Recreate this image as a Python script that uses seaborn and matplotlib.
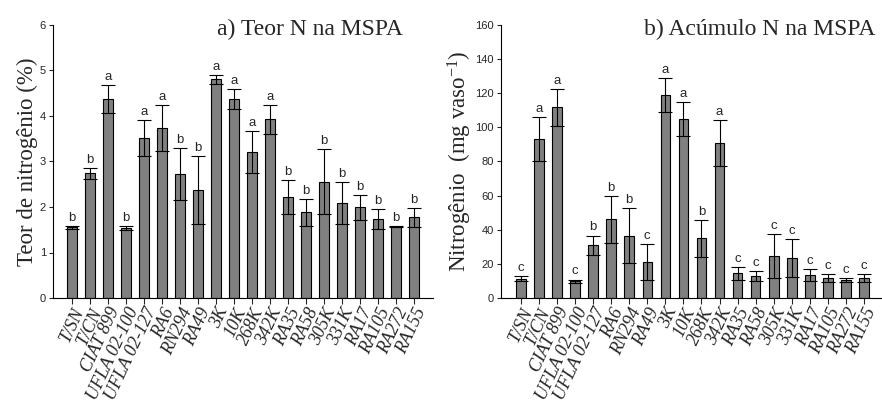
import matplotlib
matplotlib.use("Agg")
import matplotlib.pyplot as plt
import seaborn as sns
import pandas as pd
import numpy as np

categories = ["T/SN", "T/CN", "CIAT 899", "UFLA 02-100", "UFLA 02-127", "RA6", "RN294", "RA49",
              "3K", "10K", "268K", "342K", "RA35", "RA58", "305K", "331K", "RA17", "RA105",
              "RA272", "RA155"]

teor_mean = [1.55, 2.74, 4.37, 1.54, 3.52, 3.74, 2.72, 2.37, 4.81, 4.37,
             3.20, 3.93, 2.22, 1.88, 2.56, 2.08, 1.99, 1.74, 1.57, 1.77]
teor_err = [0.04, 0.12, 0.31, 0.04, 0.39, 0.51, 0.57, 0.74, 0.10, 0.22,
            0.46, 0.32, 0.38, 0.30, 0.72, 0.46, 0.28, 0.22, 0.02, 0.20]
teor_letters = ["b", "b", "a", "b", "a", "a", "b", "b", "a", "a",
                "a", "a", "b", "b", "b", "b", "b", "b", "b", "b"]

acum_mean = [11.3, 93.2, 111.7, 9.8, 30.9, 46.1, 36.5, 21.1, 118.8, 104.9,
             35.0, 90.8, 14.5, 12.7, 24.8, 23.6, 13.3, 11.7, 10.5, 11.7]
acum_err = [1.5, 13.0, 10.8, 1.0, 5.7, 13.6, 16.2, 10.6, 9.9, 9.8,
            10.7, 13.4, 3.8, 3.0, 12.9, 11.1, 3.6, 2.5, 1.2, 2.3]
acum_letters = ["c", "a", "a", "c", "b", "b", "b", "c", "a", "a",
                "b", "a", "c", "c", "c", "c", "c", "c", "c", "c"]

sns.set_theme(style="ticks")
plt.rcParams["font.family"] = ["Liberation Sans", "DejaVu Sans"]
plt.rcParams["mathtext.fontset"] = "custom"
plt.rcParams["mathtext.rm"] = "Liberation Serif"
plt.rcParams["mathtext.it"] = "Liberation Serif:italic"

fig = plt.figure(figsize=(8.82, 4.07), dpi=100)
ax1 = fig.add_axes([53 / 882, 109 / 407, 380 / 882, 273 / 407])
ax2 = fig.add_axes([501 / 882, 109 / 407, 380 / 882, 273 / 407])

serif = ["Liberation Serif", "DejaVu Serif"]

def panel(ax, mean, err, letters, ylim, yticks, ylabel, title, xlim, title_x):
    df = pd.DataFrame({"cat": categories, "val": mean})
    sns.barplot(data=df, x="cat", y="val", ax=ax, color="#808080", saturation=1,
                width=0.53, edgecolor="black", linewidth=0.8, errorbar=None)
    xs = np.arange(len(categories))
    ax.errorbar(xs, mean, yerr=err, fmt="none", ecolor="black", elinewidth=0.8,
                capsize=4.8, capthick=0.8, zorder=5)
    for x, m, e, l in zip(xs, mean, err, letters):
        ax.annotate(l, (x, m + e), xytext=(0, 1.5), textcoords="offset points",
                    ha="center", va="bottom", fontsize=9.5, family=["Liberation Sans"])
    ax.set_ylim(*ylim)
    ax.set_yticks(yticks)
    ax.set_xlim(*xlim)
    ax.set_xlabel("")
    ax.set_ylabel(ylabel, fontsize=16.5, family=serif, labelpad=1)
    ax.tick_params(axis="y", labelsize=8, length=3, width=0.8, pad=2)
    ax.tick_params(axis="x", length=4, width=0.8, pad=1)
    ax.set_xticks(xs)
    ax.set_xticklabels(categories, rotation=65, ha="right", rotation_mode="anchor",
                       fontsize=13, family=serif, style="italic")
    for s in ["top", "right"]:
        ax.spines[s].set_visible(False)
    for s in ["left", "bottom"]:
        ax.spines[s].set_linewidth(0.8)
        ax.spines[s].set_color("black")
    ax.text(title_x, 0.985, title, transform=ax.transAxes, ha="right", va="center",
            fontsize=17, family=serif)

panel(ax1, teor_mean, teor_err, teor_letters, (0, 6), [0, 1, 2, 3, 4, 5, 6],
      "Teor de nitrogênio (%)", "a) Teor N na MSPA", (-1.06, 20.06), 0.92)
panel(ax2, acum_mean, acum_err, acum_letters, (0, 160), [0, 20, 40, 60, 80, 100, 120, 140, 160],
      r"Nitrogênio  (mg vaso$^{-1}$)", "b) Acúmulo N na MSPA", (-1.1, 19.94), 0.985)

fig.savefig("out.png", dpi=100)
